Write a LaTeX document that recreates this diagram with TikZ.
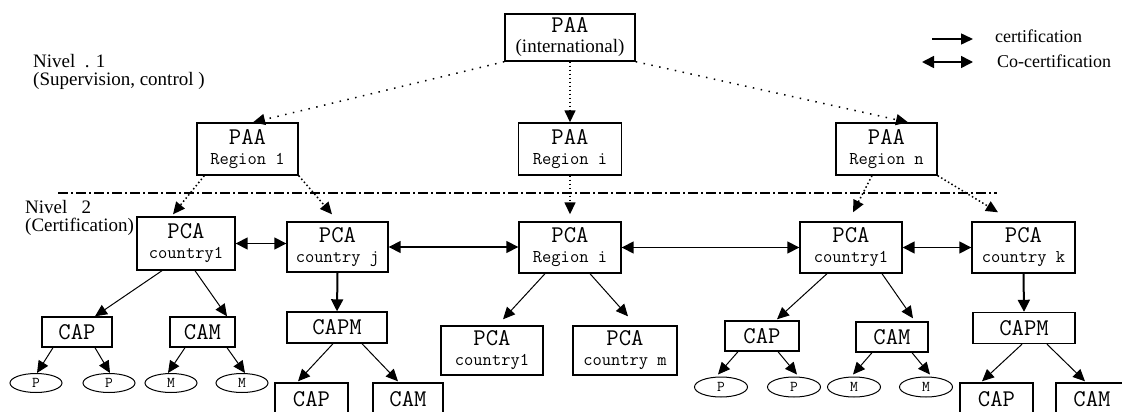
\documentclass[tikz,border=0pt]{standalone}
\usepackage{fontspec}
\newfontfamily\serf{Liberation Serif}
\usetikzlibrary{arrows.meta,shapes.geometric}
\newcommand\BigT{\ttfamily\fontsize{24}{20}\selectfont\addfontfeatures{LetterSpace=14,FakeBold=1.5}}
\newcommand\SmT{\ttfamily\fontsize{18}{20}\selectfont\addfontfeatures{LetterSpace=4,FakeBold=1.2}}
\newcommand\LabT{\serf\fontsize{19}{18}\selectfont}
\newcommand\IntT{\serf\fontsize{19}{20}\selectfont}
\newcommand\LegT{\serf\fontsize{18}{18}\selectfont}
\newcommand\ElT{\ttfamily\fontsize{15}{15}\selectfont\addfontfeatures{FakeBold=2.5}}
\tikzset{
  box/.style={draw, line width=1.4pt, inner sep=0pt, align=center, font=\BigT},
  ell/.style={draw, ellipse, line width=1pt, inner sep=0pt, minimum width=52pt, minimum height=19pt, font=\ElT},
  lab/.style={inner sep=0pt, align=left, font=\LabT},
  arr/.style={line width=1pt, -{Triangle[length=12pt,width=11pt]}},
  tarr/.style={line width=2pt, -{Triangle[length=12pt,width=12pt]}},
  coarr/.style={line width=1.6pt, {Triangle[length=12pt,width=12pt]}-{Triangle[length=12pt,width=12pt]}},
  darr/.style={line width=1.5pt, dash pattern=on 1.5pt off 6.5pt, -{Triangle[length=12pt,width=11pt]}},
  ddarr/.style={line width=1.5pt, dash pattern=on 1.5pt off 2.5pt, -{Triangle[length=12pt,width=11pt]}},
  sep/.style={line width=1.2pt, dash pattern=on 10pt off 3pt on 2pt off 3pt}
}
\begin{document}
\begin{tikzpicture}[x=1pt,y=-1pt]
\useasboundingbox (0,0) rectangle (1122,412);
\clip (0,0) rectangle (1122,412);

% labels
\node[lab, anchor=north west] (niv1) at (33,54) {Nivel \ . 1\\(Supervision, control )};
\node[lab, anchor=north west] (niv2) at (25,200) {Nivel \ \ 2\\(Certification)};

% legend
\coordinate (la1) at (932,39); \coordinate (lb1) at (973,39);
\coordinate (la2) at (922,62); \coordinate (lb2) at (973,62);
\draw[line width=1.5pt, -{Triangle[length=12pt,width=11pt]}] (la1) -- (lb1);
\draw[coarr, line width=1.5pt] (la2) -- (lb2);
\node[inner sep=0pt, anchor=base west, font=\LegT] (leg1) at (995,43) {certification};
\node[inner sep=0pt, anchor=base west, font=\LegT] (leg2) at (997,67) {Co-certification};

% level 0
\node[box, minimum width=130pt, minimum height=47pt] (intl) at (570,37.5) {PAA\\{\IntT (international)}};

% regions
\node[box, minimum width=101pt, minimum height=52pt] (reg1) at (247.5,149) {PAA\\{\SmT Region 1}};
\node[box, minimum width=103pt, minimum height=52pt] (regi) at (570,149) {PAA\\{\SmT Region i}};
\node[box, minimum width=101pt, minimum height=52pt] (regn) at (886.5,149) {PAA\\{\SmT Region n}};

\draw[darr] (intl.south west) -- ([xshift=5.5pt]reg1.north);
\draw[ddarr] (intl.south) -- (regi.north);
\draw[darr] (intl.south east) -- ([xshift=21.5pt]regn.north);

% separator
\coordinate (sepL) at (58,193); \coordinate (sepR) at (997,193);
\draw[sep] (sepL) -- (sepR);

% PCA row
\node[box, minimum width=98pt, minimum height=53pt] (pcaL) at (186,243.5) {PCA\\{\SmT country1}};
\node[box, minimum width=101pt, minimum height=50pt] (pcaj) at (337.5,247) {PCA\\{\SmT country j}};
\node[box, minimum width=102pt, minimum height=51pt] (pcari) at (570,247.5) {PCA\\{\SmT Region i}};
\node[box, minimum width=102pt, minimum height=51pt] (pcaR) at (851,247.5) {PCA\\{\SmT country1}};
\node[box, minimum width=103pt, minimum height=51pt] (pcak) at (1023.5,247.5) {PCA\\{\SmT country k}};

\draw[ddarr] ([xshift=8pt]reg1.south west) -- ([xshift=-13pt,yshift=2pt]pcaL.north);
\draw[ddarr] (reg1.south east) -- ([xshift=-5.5pt,yshift=7pt]pcaj.north);
\draw[ddarr] (regi.south) -- ([yshift=7pt]pcari.north);
\draw[ddarr] ([xshift=-14.5pt]regn.south) -- ([xshift=2pt,yshift=9pt]pcaR.north);
\draw[ddarr] (regn.south east) -- ([xshift=-25.5pt,yshift=9pt]pcak.north);

% co-certification
\draw[coarr] (pcaL.east) -- (pcaL.east -| pcaj.west);
\draw[coarr] (pcaj.east) -- (pcaj.east -| pcari.west);
\draw[coarr] (pcari.east) -- (pcaR.west);
\draw[coarr] (pcaR.east) -- (pcak.west);

% left subtree
\node[box, minimum width=70pt, minimum height=30pt] (capL) at (77,332) {CAP};
\node[box, minimum width=65pt, minimum height=30pt] (camL) at (202.5,332) {CAM};
\node[ell] (p1) at (36,383) {P};
\node[ell] (p2) at (109,383) {P};
\node[ell] (m1) at (171,383) {M};
\node[ell] (m2) at (242,383) {M};
\draw[arr] ([xshift=-24pt]pcaL.south) -- ([xshift=18pt]capL.north);
\draw[arr] ([xshift=9pt]pcaL.south) -- ([xshift=24.5pt]camL.north);
\draw[arr] ([xshift=-24pt]capL.south) -- ([xshift=1pt]p1.north);
\draw[arr] ([xshift=18pt]capL.south) -- ([xshift=1pt]p2.north);
\draw[arr] ([xshift=-17.5pt]camL.south) -- ([xshift=-3pt]m1.north);
\draw[arr] ([xshift=24.5pt]camL.south) -- ([xshift=3pt]m2.north);

% country j subtree
\node[box, minimum width=100pt, minimum height=31pt] (capmJ) at (337,327.5) {CAPM};
\node[box, minimum width=73pt, minimum height=32pt] (capJ) at (311.5,399) {CAP};
\node[box, minimum width=70pt, minimum height=32pt] (camJ) at (408,399) {CAM};
\draw[tarr] (pcaj.south) -- (capmJ.north);
\draw[arr] ([xshift=-4pt]capmJ.south) -- ([xshift=-13.5pt,yshift=1pt]capJ.north);
\draw[arr] ([xshift=25pt]capmJ.south) -- ([xshift=-10pt,yshift=1pt]camJ.north);

% region i subtree
\node[box, minimum width=102pt, minimum height=49pt] (pcac1) at (492,350.5) {PCA\\{\SmT country1}};
\node[box, minimum width=104pt, minimum height=49pt] (pcacm) at (625,350.5) {PCA\\{\SmT country m}};
\draw[arr] ([xshift=-25pt]pcari.south) -- ([xshift=11pt,yshift=6pt]pcac1.north);
\draw[arr] ([xshift=20pt]pcari.south) -- ([xshift=3pt,yshift=9pt]pcacm.north);

% right country1 subtree
\node[box, minimum width=74pt, minimum height=30pt] (capR) at (762,336) {CAP};
\node[box, minimum width=72pt, minimum height=30pt] (camR) at (892,337) {CAM};
\node[ell, minimum width=53pt, minimum height=20pt] (pa) at (721,387) {P};
\node[ell, minimum width=53pt, minimum height=20pt] (pb) at (794,387) {P};
\node[ell, minimum width=53pt, minimum height=20pt] (ma) at (854,387) {M};
\node[ell, minimum width=53pt, minimum height=20pt] (mb) at (926,387) {M};
\draw[arr] ([xshift=-24pt]pcaR.south) -- ([xshift=15pt,yshift=1pt]capR.north);
\draw[arr] ([xshift=31pt]pcaR.south) -- ([xshift=21pt,yshift=3pt]camR.north);
\draw[arr] ([xshift=-24pt]capR.south) -- ([xshift=-3pt,yshift=2pt]pa.north);
\draw[arr] ([xshift=16pt]capR.south) -- ([xshift=3pt,yshift=2pt]pb.north);
\draw[arr] ([xshift=-20pt]camR.south) -- ([xshift=-1pt,yshift=2pt]ma.north);
\draw[arr] ([xshift=20pt]camR.south) -- ([xshift=4pt,yshift=2pt]mb.north);

% country k subtree
\node[box, minimum width=102pt, minimum height=31pt] (capmK) at (1024,328) {CAPM};
\node[box, minimum width=73pt, minimum height=32pt] (capK) at (996.5,399) {CAP};
\node[box, minimum width=72pt, minimum height=32pt] (camK) at (1092,399) {CAM};
\draw[tarr] (pcak.south) -- (capmK.north);
\draw[arr] ([xshift=-2pt]capmK.south) -- ([xshift=-14.5pt,yshift=1pt]capK.north);
\draw[arr] ([xshift=23pt]capmK.south) -- ([xshift=-7pt,yshift=1pt]camK.north);
\end{tikzpicture}
\end{document}
